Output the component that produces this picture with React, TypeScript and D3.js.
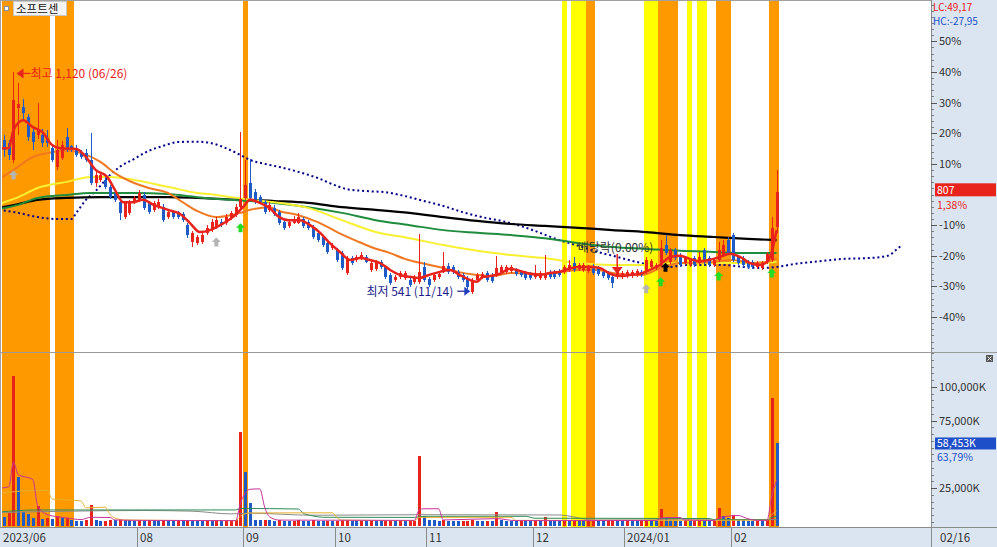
import React from 'react';
import * as d3 from 'd3';

const W = 997;
const H = 547;
const BASE = 800; // price at 0% on the right axis

// daily candles from 2023/06/21 to 2024/02/16: [open, high, low, close]
const ohlc: [number, number, number, number][] = [
  [930, 940, 910, 921], [942, 955, 898, 916], [934, 942, 890, 903], [890, 1120, 882, 1047], [1025, 1090, 955, 1035],
  [1028, 1050, 994, 1013], [1002, 1010, 940, 950], [963, 975, 916, 937], [955, 1040, 945, 970], [955, 970, 925, 934],
  [947, 968, 925, 934], [921, 930, 885, 890], [872, 942, 865, 916], [895, 940, 890, 929], [950, 974, 910, 916],
  [926, 930, 910, 916], [921, 930, 898, 903], [908, 915, 893, 898], [908, 920, 885, 890], [890, 960, 825, 830],
  [830, 860, 820, 851], [838, 858, 832, 851], [838, 845, 815, 820], [820, 825, 788, 793], [804, 810, 780, 786],
  [780, 786, 733, 752], [741, 783, 736, 778], [752, 786, 746, 780], [780, 796, 775, 791], [786, 812, 780, 804],
  [799, 806, 760, 765], [778, 784, 748, 754], [760, 784, 755, 778], [767, 788, 762, 780], [767, 775, 728, 733],
  [741, 760, 736, 754], [754, 760, 736, 741], [754, 758, 735, 741], [749, 755, 728, 733], [720, 726, 686, 694],
  [676, 705, 663, 700], [673, 695, 668, 689], [676, 700, 670, 694], [700, 720, 695, 713], [707, 735, 702, 728],
  [715, 740, 710, 733], [728, 735, 715, 720], [726, 748, 720, 741], [738, 758, 733, 751], [746, 775, 741, 767],
  [767, 962, 760, 789], [790, 890, 785, 825], [830, 893, 786, 791], [807, 815, 775, 780], [793, 800, 775, 780],
  [780, 786, 748, 754], [760, 780, 755, 773], [765, 772, 744, 749], [754, 760, 720, 725], [728, 733, 707, 712],
  [718, 733, 713, 728], [726, 745, 722, 736], [726, 752, 722, 741], [736, 741, 713, 718], [728, 733, 707, 712],
  [715, 720, 684, 689], [700, 705, 676, 681], [689, 694, 663, 668], [673, 678, 645, 650], [660, 673, 655, 668],
  [655, 660, 624, 629], [647, 652, 603, 608], [595, 640, 590, 634], [634, 640, 616, 621], [629, 642, 625, 637],
  [634, 650, 630, 642], [637, 642, 620, 624], [603, 626, 598, 621], [606, 629, 600, 624], [624, 629, 606, 611],
  [611, 616, 580, 585], [590, 595, 564, 569], [577, 590, 572, 585], [585, 600, 580, 595], [583, 600, 578, 595],
  [577, 582, 559, 564], [572, 590, 567, 585], [572, 698, 567, 598], [611, 624, 572, 577], [580, 585, 559, 564],
  [577, 595, 572, 590], [585, 600, 580, 593], [598, 650, 595, 614], [614, 620, 593, 598], [611, 616, 593, 598],
  [598, 603, 580, 585], [590, 595, 572, 577], [582, 587, 554, 559], [546, 582, 541, 577], [577, 595, 572, 590],
  [585, 598, 580, 593], [595, 600, 572, 577], [590, 595, 569, 574], [590, 640, 585, 608], [598, 616, 593, 611],
  [598, 616, 593, 611], [600, 616, 595, 611], [603, 608, 588, 593], [598, 603, 585, 590], [595, 600, 577, 582],
  [593, 598, 577, 582], [585, 616, 580, 595], [582, 600, 577, 595], [582, 642, 577, 593], [598, 603, 580, 585],
  [598, 603, 580, 585], [600, 606, 585, 590], [598, 616, 593, 611], [603, 629, 598, 616], [621, 637, 598, 603],
  [606, 621, 601, 616], [603, 621, 598, 616], [600, 616, 595, 611], [613, 618, 590, 595], [608, 613, 588, 593],
  [598, 603, 582, 587], [595, 600, 577, 582], [585, 590, 556, 569], [585, 603, 580, 598], [585, 600, 580, 595],
  [587, 603, 582, 598], [587, 603, 582, 598], [590, 606, 585, 600], [598, 603, 585, 590], [598, 637, 593, 629],
  [611, 632, 606, 626], [608, 621, 603, 616], [616, 680, 611, 660], [668, 694, 642, 647], [624, 660, 619, 655],
  [655, 660, 629, 634], [642, 647, 611, 616], [621, 640, 616, 634], [616, 634, 611, 629], [634, 640, 611, 616],
  [621, 650, 616, 637], [655, 660, 619, 624], [634, 640, 611, 616], [616, 634, 611, 629], [629, 676, 624, 655],
  [642, 681, 637, 668], [681, 690, 642, 647], [694, 700, 624, 629], [637, 642, 616, 621], [634, 640, 611, 616],
  [624, 629, 606, 611], [624, 629, 606, 611], [611, 626, 606, 621], [608, 626, 603, 621], [624, 650, 619, 645],
  [629, 740, 624, 712], [715, 864, 700, 807],
];

// daily volume, in K shares
const volume = [
  4500, 3700, 6700, 108000, 33000, 7400, 5900, 3000, 11800, 2200,
  3000, 2200, 4600, 3000, 3200, 1500, 1000, 900, 1200, 12600,
  1200, 800, 1000, 1800, 1600, 2300, 1800, 1500, 1100, 1300,
  1000, 1400, 1200, 900, 1300, 1000, 800, 900, 700, 1500,
  1200, 800, 700, 900, 800, 1000, 700, 800, 900, 1200,
  66500, 37000, 14000, 1500, 1200, 1800, 1200, 900, 1400, 1100,
  900, 1000, 1300, 900, 800, 1200, 1000, 700, 900, 800,
  1100, 1300, 1500, 900, 700, 1000, 800, 1100, 900, 700,
  1000, 1200, 800, 900, 700, 800, 1000, 48800, 4400, 1500,
  1200, 900, 1600, 1000, 800, 700, 900, 1100, 1400, 1000,
  800, 900, 700, 7600, 1500, 1000, 800, 700, 900, 800,
  700, 1500, 1200, 3700, 1000, 800, 700, 900, 800, 1000,
  900, 700, 800, 1000, 800, 700, 900, 1200, 800, 700,
  900, 800, 700, 1000, 1300, 900, 800, 9600, 3100, 1500,
  1100, 900, 1200, 800, 1000, 1300, 1100, 800, 900, 10300,
  4400, 2900, 5000, 1500, 1200, 900, 800, 1000, 900, 1400,
  91700, 58453,
];

// moving averages: [day index, value]
const ma5: [number, number][] = [
  [0, 921], [2, 921], [3, 968], [5, 994], [7, 976], [9, 963], [11, 929], [12.6, 921], [16, 919], [18, 898],
  [20, 864], [22.4, 846], [24, 812], [25.7, 780], [27.7, 780], [29.8, 786], [32, 773], [35, 760], [37.5, 749],
  [39.5, 726], [41.6, 702], [43.7, 707], [45.8, 720], [48.4, 741], [50.5, 767], [52, 786], [54, 778], [56, 765],
  [58, 741], [60, 733], [62.3, 733], [64.4, 720], [66.5, 700], [68.5, 673], [70.6, 650], [72.7, 629], [74.7, 634],
  [76.8, 629], [78.9, 621], [81, 603], [83, 590], [85, 585], [87, 582], [89, 590], [91.3, 598], [93.4, 603],
  [95.4, 590], [97.5, 577], [99, 572], [100.2, 585], [101.7, 587], [103.7, 593], [105.8, 606], [108, 600],
  [110, 593], [112, 590], [114, 595], [116, 598], [118, 606], [120, 611], [122.4, 611], [124.4, 608], [126.5, 593],
  [128.6, 587], [130.6, 590], [132.7, 593], [134.8, 603], [136.8, 616], [139, 637], [141, 640], [143, 632],
  [145, 626], [147, 629], [149.3, 637], [151.3, 645], [153.4, 637], [155.5, 621], [157.5, 616], [159, 624],
  [160, 650], [161, 707],
];
const ma20: [number, number][] = [
  [0, 840], [3, 864], [7, 898], [10, 908], [14, 914], [17, 908], [21, 885], [24, 856], [28, 830], [31, 817],
  [35, 804], [38, 780], [41, 757], [45, 741], [48, 746], [50, 752], [52, 760], [56, 767], [58, 757], [62, 746],
  [66, 728], [70, 702], [74, 679], [77, 663], [81, 647], [84, 632], [88, 619], [92, 608], [95, 598], [99, 590],
  [102, 587], [106, 595], [113, 592], [120, 603], [124, 603], [127, 595], [133, 590], [137, 608], [141, 621],
  [148, 624], [152, 629], [156, 621], [159, 624], [161, 634],
];
const ma60: [number, number][] = [
  [0, 775], [4, 793], [8, 817], [14, 833], [19, 846], [23, 846], [28, 838], [35, 820], [41, 804], [45, 799],
  [52, 786], [57, 780], [64, 765], [71, 733], [78, 702], [85, 686], [92, 668], [99, 653], [106, 642], [113, 634],
  [120, 621], [127, 616], [134, 616], [141, 621], [148, 621], [155, 621], [161, 624],
];
const ma120: [number, number][] = [
  [0, 762], [4, 773], [8, 791], [14, 799], [19, 804], [28, 804], [35, 801], [41, 793], [48, 786], [52, 783],
  [57, 778], [64, 767], [71, 752], [78, 733], [85, 720], [92, 707], [99, 700], [106, 694], [113, 686], [120, 673],
  [127, 663], [134, 658], [141, 653], [148, 650], [155, 647], [161, 647],
];
const ma240: [number, number][] = [
  [0, 765], [4, 775], [8, 786], [14, 791], [21, 793], [28, 793], [35, 793], [41, 791], [48, 787], [52, 786],
  [57, 783], [64, 778], [71, 767], [78, 760], [85, 752], [92, 741], [99, 731], [106, 723], [113, 718], [120, 713],
  [127, 707], [134, 702], [141, 694], [148, 689], [155, 684], [161, 681],
];
// leading span, shifted 26 days ahead
const span: [number, number][] = [
  [0, 760], [4, 752], [8, 741], [12, 736], [15, 736], [16, 752], [18, 786], [20, 809], [23, 851], [25, 872],
  [28, 893], [31, 914], [34, 927], [37, 937], [41, 938], [44, 934], [47, 921], [50, 903], [52, 890], [55, 880],
  [58, 872], [62, 859], [66, 843], [70, 822], [72, 814], [76, 809], [80, 806], [84, 796], [88, 783], [92, 770],
  [96, 754], [100, 741], [104, 731], [108, 718], [112, 700], [116, 681], [120, 666], [124, 650], [128, 637],
  [132, 624], [136, 613], [139, 611], [142, 616], [146, 616], [150, 616], [154, 611], [158, 608], [161, 611],
  [165, 619], [170, 626], [175, 632], [180, 634], [184, 640], [186, 658], [187, 668],
];

// volume averages: [day index, K shares]
const vma5: [number, number][] = [
  [0, 25000], [2, 25900], [3, 44000], [4, 35000], [7, 31500], [8, 12200], [10, 5500], [14, 3000], [17, 1800],
  [19, 3500], [23, 3300], [24, 1500], [30, 1200], [49, 1000], [50, 14100], [51, 21400], [52, 24200], [54, 24500],
  [55, 11100], [56, 3900], [58, 1400], [86, 1200], [87, 9000], [88, 9800], [91, 9800], [92, 1500], [103, 2500],
  [107, 1000], [136, 1100], [137, 2800], [138, 3300], [141, 3300], [142, 1500], [148, 1100], [149, 3000],
  [150, 3800], [152, 4700], [153, 4800], [155, 2500], [157, 1200], [159, 1200], [160, 19400], [161, 30800],
];
const vma20: [number, number][] = [
  [0, 21000], [5, 23000], [10, 23500], [11, 17000], [17, 15500], [18, 10500], [22, 11000], [23, 5500],
  [24, 3000], [26, 1500], [49, 1000], [50, 4300], [51, 6100], [52, 6700], [69, 6800], [70, 3300], [71, 1400],
  [86, 1000], [87, 3400], [106, 3500], [107, 1200], [159, 1300], [160, 5500], [161, 8300],
];
const vma60: [number, number][] = [
  [0, 7400], [8, 8900], [49, 8900], [50, 10000], [62, 9600], [63, 6500], [65, 4500], [67, 3500], [86, 3400],
  [88, 4200], [109, 4200], [111, 2800], [147, 2600], [148, 1800], [159, 1800], [160, 3300], [161, 4200],
];
const vma120: [number, number][] = [
  [0, 7000], [30, 8500], [40, 8000], [48, 6000], [52, 6500], [65, 5000], [87, 5400], [100, 5300], [116, 5200],
  [122, 1800], [123, 1500], [161, 1800],
];

// highlighted signal days
const orangeBands: [number, number][] = [[0, 10], [12, 15], [51, 51], [122, 123], [137, 140], [149, 151], [160, 161]];
const yellowBands: [number, number][] = [[117, 117], [119, 121], [134, 136], [143, 143], [145, 146]];

// arrow signals: [day index, price, colour]
const upMarks: [number, number, string][] = [
  [3, 851, '#b4b4b4'], [45, 676, '#b4b4b4'], [50, 713, '#22dd22'], [134, 554, '#b4b4b4'],
  [137, 572, '#22dd22'], [138, 610, '#000000'], [149, 587, '#22dd22'], [160, 595, '#22dd22'],
];
const downMarks: [number, number][] = [[128, 603]];

const monthIdx = [0, 29, 51, 70, 89, 111, 130, 152];
const monthLabels = ['2023/06', '08', '09', '10', '11', '12', '2024/01', '02'];
const pctTicks = [50, 40, 30, 20, 10, -10, -20, -30, -40];
const volTicks = [100000, 75000, 25000];

const RED = '#e8231c';
const BLUE = '#1f5bc6';
const PANEL = '#dbe5f1';
const FONT = '"Noto Sans CJK KR", "Noto Sans", sans-serif';

export default function App() {
  const plotR = 931;
  const x = d3.scaleLinear().domain([0, 161]).range([-1, 776.6]);
  const step = x(1) - x(0);
  const yPct = d3.scaleLinear().domain([0, 50]).range([194.5, 41.3]);
  const y = (p: number) => yPct((p / BASE - 1) * 100);
  const yV = d3.scaleLinear().domain([0, 100000]).range([522, 386.8]);

  const priceLine = d3.line<[number, number]>().x((d) => x(d[0])).y((d) => y(d[1])).curve(d3.curveMonotoneX);
  const volLine = d3.line<[number, number]>().x((d) => x(d[0])).y((d) => yV(d[1])).curve(d3.curveMonotoneX);

  const last = ohlc[ohlc.length - 1];
  const lastVol = volume[volume.length - 1];

  const band = (b: [number, number], color: string, i: number) => (
    <rect key={color + i} x={x(b[0]) - step / 2} width={x(b[1]) - x(b[0]) + step} y={0} height={527}
      fill={color} shapeRendering="crispEdges" />
  );

  const upArrow = (cx: number, cy: number) =>
    `M${cx},${cy - 4.5}L${cx + 4.5},${cy}L${cx + 2},${cy}L${cx + 2},${cy + 4.5}L${cx - 2},${cy + 4.5}L${cx - 2},${cy}L${cx - 4.5},${cy}Z`;

  return (
    <svg width={W} height={H} style={{ position: 'fixed', left: 0, top: 0, background: '#fff' }} fontFamily={FONT}>
      <defs>
        <clipPath id="pc"><rect x={2} y={1} width={plotR - 2} height={351} /></clipPath>
        <clipPath id="vc"><rect x={2} y={353} width={plotR - 2} height={174} /></clipPath>
        <clipPath id="bc"><rect x={2} y={1} width={plotR - 2} height={526} /></clipPath>
      </defs>

      <g clipPath="url(#bc)">
        {yellowBands.map((b, i) => band(b, '#ffff00', i))}
        {orangeBands.map((b, i) => band(b, '#ff9900', i))}
      </g>

      {/* price panel */}
      <g clipPath="url(#pc)">
        <path d={priceLine(span) ?? ''} fill="none" stroke="#00008b" strokeWidth={2} strokeDasharray="2 2.83" />
        <path d={priceLine(ma240) ?? ''} fill="none" stroke="#000" strokeWidth={2.2} />
        <path d={priceLine(ma120) ?? ''} fill="none" stroke="#1e8c3c" strokeWidth={2} />
        <path d={priceLine(ma60) ?? ''} fill="none" stroke="#f8f030" strokeWidth={2} />
        <path d={priceLine(ma20) ?? ''} fill="none" stroke="#f07820" strokeWidth={2} />
        {ohlc.map(([o, h, l, c], i) => {
          const cx = Math.round(x(i));
          const col = c >= o ? RED : BLUE;
          const top = y(Math.max(o, c));
          const bh = Math.max(1, y(Math.min(o, c)) - top);
          return (
            <g key={i} shapeRendering="crispEdges">
              <line x1={cx + 0.5} x2={cx + 0.5} y1={y(h)} y2={y(l)} stroke={col} strokeWidth={1} />
              <rect x={cx - 1} y={top} width={3} height={bh} fill={col} />
            </g>
          );
        })}
        <path d={priceLine(ma5) ?? ''} fill="none" stroke={RED} strokeWidth={2.5} />
        {upMarks.map(([i, p, col], k) => (
          <path key={k} d={upArrow(x(i), y(p))} fill={col} />
        ))}
        {downMarks.map(([i, p], k) => (
          <g key={k}>
            <line x1={x(i)} x2={x(i)} y1={y(p) - 16} y2={y(p) - 2} stroke={RED} strokeWidth={1.5} />
            <path d={`M${x(i) - 5.5},${y(p) - 3}L${x(i) + 5.5},${y(p) - 3}L${x(i)},${y(p) + 4}Z`} fill={RED} />
          </g>
        ))}

        {/* high / low / dividend notes */}
        <path d={`M${x(3) + 3},${y(1120) + 1.5}L${x(3) + 10},${y(1120) - 3.5}L${x(3) + 10},${y(1120) + 6.5}Z`} fill={RED} />
        <line x1={x(3) + 9} x2={x(3) + 17} y1={y(1120) + 1.5} y2={y(1120) + 1.5} stroke={RED} strokeWidth={1.2} />
        <text x={x(3) + 17} y={y(1120) + 6} fontSize={12} fill={RED}>최고 1,120 (06/26)</text>

        <text x={x(98) - 19} y={y(541) + 2} fontSize={12} fill="#1c1c8c" textAnchor="end">최저 541 (11/14)</text>
        <line x1={x(98) - 15} x2={x(98) - 5} y1={y(541) - 2.5} y2={y(541) - 2.5} stroke="#1c1c8c" strokeWidth={1.2} />
        <path d={`M${x(98) - 2},${y(541) - 2.5}L${x(98) - 8},${y(541) - 7}L${x(98) - 8},${y(541) + 2}Z`} fill="#2040c0" />

        <text x={x(119) + 4} y={y(663) + 5} fontSize={12} fill="#333">배당락(0.00%)</text>
      </g>

      {/* volume panel */}
      <g clipPath="url(#vc)" shapeRendering="crispEdges">
        {volume.map((v, i) => {
          const cx = Math.round(x(i));
          const col = i > 0 && v > volume[i - 1] ? RED : BLUE;
          return <rect key={i} x={cx - 1} y={yV(v)} width={3} height={526 - yV(v)} fill={col} />;
        })}
      </g>
      <g clipPath="url(#vc)" fill="none" strokeWidth={1}>
        <path d={volLine(vma120) ?? ''} stroke="#8a8a8a" />
        <path d={volLine(vma60) ?? ''} stroke="#2e8b57" />
        <path d={volLine(vma20) ?? ''} stroke="#e8b030" />
        <path d={volLine(vma5) ?? ''} stroke="#c8329b" />
      </g>

      {/* frame */}
      <line x1={0} x2={W} y1={0.5} y2={0.5} stroke="#a0a0a0" />
      <line x1={0.5} x2={0.5} y1={0} y2={H} stroke="#a0a0a0" />
      <line x1={0} x2={W} y1={352.5} y2={352.5} stroke="#9a9a9a" />

      {/* title */}
      <rect x={4.5} y={6.5} width={4} height={4} fill="#fff" stroke="#8090a0" />
      <rect x={13.5} y={1.5} width={53} height={14} fill="#f4f4f4" stroke="#c8c8c8" />
      <text x={16} y={12.5} fontSize={11.5} fill="#111">소프트센</text>

      {/* right axis */}
      <rect x={plotR} y={0} width={W - plotR} height={527} fill={PANEL} />
      <line x1={plotR + 0.5} x2={plotR + 0.5} y1={0} y2={H} stroke="#8a8a8a" />
      {d3.range(-50, 64, 2).map((t) => (
        <line key={'m' + t} x1={plotR} x2={plotR + 3} y1={Math.round(yPct(t)) + 0.5} y2={Math.round(yPct(t)) + 0.5}
          stroke="#7a7a7a" />
      ))}
      {pctTicks.map((t) => (
        <g key={t}>
          <line x1={plotR} x2={plotR + 6} y1={Math.round(yPct(t)) + 0.5} y2={Math.round(yPct(t)) + 0.5} stroke="#555" />
          <text x={plotR + 8} y={yPct(t) + 4} fontSize={11} fill="#333">{`${t}%`}</text>
        </g>
      ))}
      {d3.range(0, 126000, 5000).map((t) => (
        <line key={'v' + t} x1={plotR} x2={plotR + 3} y1={Math.round(yV(t)) + 0.5} y2={Math.round(yV(t)) + 0.5}
          stroke="#7a7a7a" />
      ))}
      {volTicks.map((t) => (
        <g key={t}>
          <line x1={plotR} x2={plotR + 6} y1={Math.round(yV(t)) + 0.5} y2={Math.round(yV(t)) + 0.5} stroke="#555" />
          <text x={plotR + 8} y={yV(t) + 4} fontSize={11} fill="#333">{`${d3.format(',')(t)}K`}</text>
        </g>
      ))}
      <line x1={plotR} x2={W} y1={352.5} y2={352.5} stroke="#9a9a9a" />
      <text x={plotR + 2} y={11} fontSize={10} fill={RED}>LC:49,17</text>
      <text x={plotR + 2} y={24.5} fontSize={10} fill="#2050c8">HC:-27,95</text>

      <rect x={plotR + 4} y={y(last[3]) - 8.5} width={61} height={13} fill={RED} />
      <text x={plotR + 6} y={y(last[3]) + 2.5} fontSize={10.5} fill="#fff">{last[3]}</text>
      <text x={plotR + 6} y={y(last[3]) + 17} fontSize={10.5} fill={RED}>1,38%</text>

      <rect x={plotR + 4} y={yV(lastVol) - 5.5} width={61} height={12} fill="#1f4fc8" />
      <text x={plotR + 6} y={yV(lastVol) + 4.5} fontSize={10.5} fill="#fff">{`${d3.format(',')(lastVol)}K`}</text>
      <text x={plotR + 6} y={yV(lastVol) + 18.5} fontSize={10.5} fill="#2050c8">63,79%</text>

      <rect x={986} y={355} width={7} height={7} fill="#555" />
      <path d="M987.5,356.5L991.5,360.5M991.5,356.5L987.5,360.5" stroke="#fff" strokeWidth={1} />

      {/* date axis */}
      <rect x={0} y={527.5} width={W} height={H - 527.5} fill={PANEL} />
      <line x1={0} x2={W} y1={527.5} y2={527.5} stroke="#8a8a8a" />
      {monthIdx.map((m, k) => {
        const sx = k === 0 ? 0 : Math.round(x(m) - step / 2);
        return (
          <g key={m}>
            {k > 0 && <line x1={sx + 0.5} x2={sx + 0.5} y1={528} y2={H} stroke="#8a8a8a" />}
            <text x={sx + 3} y={542} fontSize={11.5} fill="#333">{monthLabels[k]}</text>
          </g>
        );
      })}
      <line x1={plotR + 0.5} x2={plotR + 0.5} y1={528} y2={H} stroke="#8a8a8a" />
      <text x={plotR + 9} y={542} fontSize={11.5} fill="#333">02/16</text>
    </svg>
  );
}
